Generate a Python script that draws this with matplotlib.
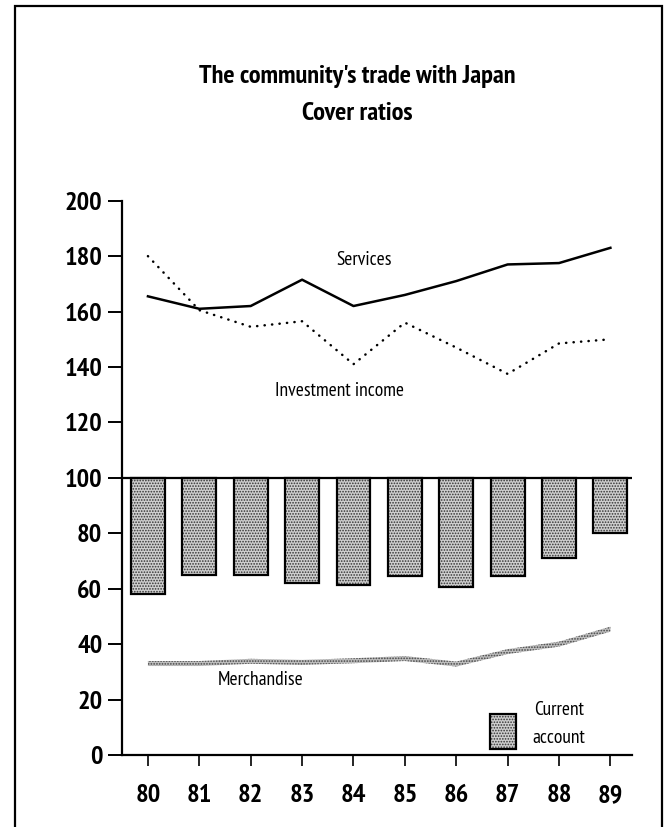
import numpy as np
import matplotlib
matplotlib.use("Agg")
from matplotlib import pyplot as plt
from matplotlib.patches import Rectangle

plt.rcParams["font.family"] = ["PT Sans Narrow", "Fira Sans Condensed", "Archivo Narrow", "Liberation Sans", "DejaVu Sans"]
plt.rcParams["hatch.linewidth"] = 0.8

# values
years = ["80", "81", "82", "83", "84", "85", "86", "87", "88", "89"]
services = [165.5, 161, 162, 171.5, 162, 166, 171, 177, 177.5, 183]
investment_income = [180, 160.5, 154.5, 156.5, 141, 156, 147, 137.5, 148.5, 150]
current_account = [58, 65, 65, 62, 61.5, 64.5, 60.5, 64.5, 71, 80]
merchandise = [33, 33, 33.8, 33.4, 34, 34.8, 32.8, 37.3, 40, 45.4]
y_ticks = [0, 20, 40, 60, 80, 100, 120, 140, 160, 180, 200]

x = np.arange(len(years))

fig = plt.figure(figsize=(6.67, 8.27), dpi=100)
ax = fig.add_axes([0.1825, 0.0871, 0.765, 0.6702])

# page frame
fig.add_artist(Rectangle((15 / 667, -0.05), 647 / 667, 1.05 - 6 / 827,
                         transform=fig.transFigure, fill=False, lw=1.6, ec="black"))

# current account bars hang down from 100
ca = np.array(current_account)
ax.bar(x, ca - 100, bottom=100, width=0.66, color="#cfcfcf", edgecolor="#333333",
       hatch="......", linewidth=0, zorder=2)
ax.bar(x, ca - 100, bottom=100, width=0.66, fill=False, edgecolor="black",
       linewidth=1.6, zorder=3)
ax.axhline(100, color="black", lw=1.6, zorder=4)

# merchandise drawn as a stippled band
m = np.array(merchandise)
ax.fill_between(x, m - 0.9, m + 0.9, facecolor="#bdbdbd", edgecolor="#444444",
                hatch="......", linewidth=0, zorder=2)

ax.plot(x, services, color="black", lw=1.8, zorder=3)
ax.plot(x, investment_income, color="black", lw=1.8, linestyle=(0, (0.1, 2.9)),
        dash_capstyle="round", zorder=3)

ax.text(4.2, 178.7, "Services", fontsize=14, ha="center", va="center")
ax.text(3.72, 131.4, "Investment income", fontsize=14, ha="center", va="center")
ax.text(2.2, 27, "Merchandise", fontsize=14, ha="center", va="center")

# legend key
ax.add_patch(Rectangle((6.65, 2.2), 0.51, 12.6, facecolor="#cfcfcf", edgecolor="#333333",
                       hatch="......", linewidth=0, zorder=2))
ax.add_patch(Rectangle((6.65, 2.2), 0.51, 12.6, fill=False, edgecolor="black",
                       linewidth=1.6, zorder=3))
ax.text(8.0, 16.2, "Current", fontsize=14, ha="center", va="center")
ax.text(8.0, 6.1, "account", fontsize=14, ha="center", va="center")

ax.set_xlim(-0.51, 9.42)
ax.set_ylim(0, 200)
ax.set_yticks(y_ticks)
ax.set_xticks(x)
ax.set_xticklabels(years)
for lab in ax.get_xticklabels() + ax.get_yticklabels():
    lab.set_fontweight("bold")
    lab.set_fontsize(19)

for side in ["top", "right"]:
    ax.spines[side].set_visible(False)
ax.spines["left"].set_linewidth(1.6)
ax.spines["bottom"].set_linewidth(1.6)
ax.tick_params(axis="y", length=10, width=1.4, pad=4)
ax.tick_params(axis="x", length=8, width=1.2, pad=13)

fig.text(0.536, 1 - 83.5 / 827, "The community's trade with Japan", fontsize=19,
         fontweight="bold", ha="center", va="baseline")
fig.text(0.535, 1 - 119.5 / 827, "Cover ratios", fontsize=19,
         fontweight="bold", ha="center", va="baseline")

fig.savefig("out.png", dpi=100)
